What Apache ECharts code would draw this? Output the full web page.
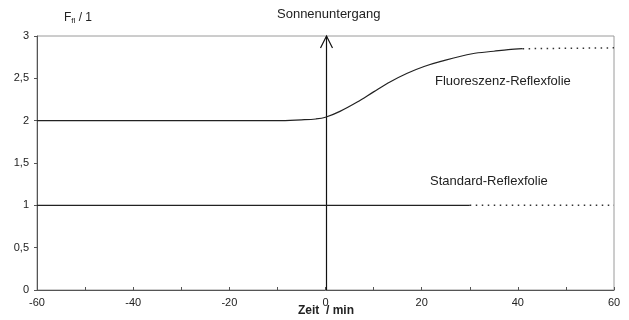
<!DOCTYPE html>
<html>
<head>
<meta charset="utf-8">
<script src="https://cdn.jsdelivr.net/npm/echarts@6/dist/echarts.min.js"></script>
<style>
  html, body { margin: 0; padding: 0; background: #fff; }
  #chart { width: 629px; height: 320px; }
</style>
</head>
<body>
<div id="chart"></div>
<script>
// Fluoreszenz-Reflexfolie: gemessener Verlauf (durchgezogen)
const fluoTime  = [-60, -20, -10, -5, -2, 0, 3, 6.6, 10, 13.5, 17, 20.5, 24, 30.5, 35, 38, 41];
const fluoValue = [2.0, 2.0, 2.0, 2.01, 2.02, 2.04, 2.11, 2.22, 2.34, 2.46, 2.56, 2.64, 2.70, 2.79, 2.82, 2.84, 2.85];
// Fluoreszenz-Reflexfolie: Fortsetzung (gepunktet)
const fluoTailTime  = [41, 60];
const fluoTailValue = [2.85, 2.86];
// Standard-Reflexfolie
const stdTime  = [-60, 30];
const stdValue = [1.0, 1.0];
const stdTailTime  = [30, 60];
const stdTailValue = [1.0, 1.0];
// Sonnenuntergang bei t = 0
const sunsetTime = 0;
const sunsetRange = [0, 3];

const pairs = (xs, ys) => xs.map((x, i) => [x, ys[i]]);
const FONT = 'Liberation Sans, Arial, sans-serif';

const chart = echarts.init(document.getElementById('chart'), null, { renderer: 'canvas' });
chart.setOption({
  animation: false,
  backgroundColor: '#fff',
  grid: { left: 37, right: 15, top: 36, bottom: 30, show: true, borderColor: '#9a9a9a', borderWidth: 1 },
  xAxis: {
    type: 'value', min: -60, max: 60, interval: 10,
    axisLine: { onZero: false, lineStyle: { color: '#555', width: 1 } },
    axisTick: { inside: true, length: 3, lineStyle: { color: '#555' } },
    splitLine: { show: false },
    axisLabel: {
      margin: 7, color: '#222', fontFamily: FONT, fontSize: 11,
      formatter: v => (v % 20 === 0 ? String(v) : '')
    }
  },
  yAxis: {
    type: 'value', min: 0, max: 3, interval: 0.5,
    axisLine: { show: true, onZero: false, lineStyle: { color: '#555', width: 1 } },
    axisTick: { show: true, length: 3, lineStyle: { color: '#555' } },
    splitLine: { show: false },
    axisLabel: {
      margin: 8, color: '#222', fontFamily: FONT, fontSize: 11,
      formatter: v => String(v).replace('.', ',')
    }
  },
  series: [
    {
      type: 'line', data: pairs(fluoTime, fluoValue), smooth: 0.35, symbol: 'none',
      lineStyle: { color: '#222', width: 1.2 }
    },
    {
      type: 'line', data: pairs(fluoTailTime, fluoTailValue), symbol: 'none',
      lineStyle: { color: '#333', width: 1.5, type: [1.5, 4.5] }
    },
    {
      type: 'line', data: pairs(stdTime, stdValue), symbol: 'none',
      lineStyle: { color: '#222', width: 1.2 }
    },
    {
      type: 'line', data: pairs(stdTailTime, stdTailValue), symbol: 'none',
      lineStyle: { color: '#333', width: 1.5, type: [1.5, 4.5] }
    },
    {
      // Pfeil für den Sonnenuntergang
      type: 'custom',
      data: [[sunsetTime, sunsetRange[0], sunsetRange[1]]],
      renderItem: (params, api) => {
        const p0 = api.coord([api.value(0), api.value(1)]);
        const p1 = api.coord([api.value(0), api.value(2)]);
        const x = Math.round(p0[0]) + 0.5;
        const style = { stroke: '#111', lineWidth: 1.2, fill: null };
        return {
          type: 'group',
          children: [
            { type: 'line', shape: { x1: x, y1: p0[1], x2: x, y2: p1[1] }, style },
            { type: 'polyline', shape: { points: [[x - 6, p1[1] + 12], [x, p1[1]], [x + 6, p1[1] + 12]] }, style }
          ]
        };
      }
    }
  ],
  graphic: [
    {
      type: 'text', left: 64, top: 12,
      style: {
        text: '{f|F}{s|fl}{f| / 1}',
        rich: {
          f: { fontFamily: FONT, fontSize: 12, fill: '#222' },
          s: { fontFamily: FONT, fontSize: 8, fill: '#222', padding: [6, 0, 0, 0] }
        }
      }
    },
    { type: 'text', left: 277, top: 8, style: { text: 'Sonnenuntergang', fontFamily: FONT, fontSize: 13, fill: '#222' } },
    { type: 'text', left: 435, top: 75, style: { text: 'Fluoreszenz-Reflexfolie', fontFamily: FONT, fontSize: 13, fill: '#222' } },
    { type: 'text', left: 430, top: 175, style: { text: 'Standard-Reflexfolie', fontFamily: FONT, fontSize: 13, fill: '#222' } },
    { type: 'text', left: 298, top: 305, style: { text: 'Zeit  / min', fontFamily: FONT, fontSize: 12, fontWeight: 'bold', fill: '#222' } }
  ]
});
</script>
</body>
</html>
